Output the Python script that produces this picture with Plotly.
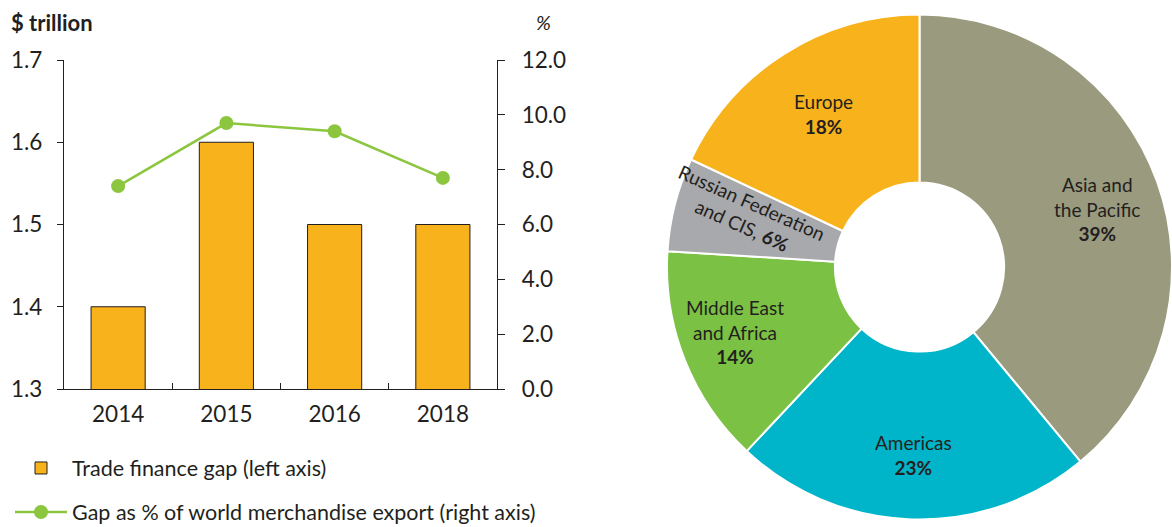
import plotly.graph_objects as go

# ---- data ----
years = ["2014", "2015", "2016", "2018"]
gap_trillion = [1.40, 1.60, 1.50, 1.50]
gap_pct_exports = [7.4, 9.7, 9.4, 7.7]

regions = ["Asia and<br>the Pacific", "Americas", "Middle East<br>and Africa",
           "Russian Federation<br>and CIS,", "Europe"]
region_share = [39, 23, 14, 6, 18]
region_colors = ["#9a9a7e", "#00b5c9", "#7bc143", "#a7a9ac", "#f8b21b"]

bar_name = "Trade finance gap (left axis)"
line_name = "Gap as % of world merchandise export (right axis)"

FONT = "Lato"
INK = "#231f20"
W, H = 1172, 527

fig = go.Figure()

fig.add_trace(go.Bar(
    x=years, y=gap_trillion, name=bar_name, width=0.5,
    marker=dict(color="#f8b21b", line=dict(color=INK, width=1)),
    legend="legend",
))
fig.add_trace(go.Scatter(
    x=years, y=gap_pct_exports, name=line_name, yaxis="y2",
    mode="lines+markers",
    line=dict(color="#8cc63f", width=2.5),
    marker=dict(color="#8cc63f", size=14),
    legend="legend2",
))

pie_dom_w = 505 / W
fig.add_trace(go.Pie(
    labels=regions, values=region_share, sort=False, direction="clockwise",
    rotation=0, hole=0.335, textinfo="none", hoverinfo="label+percent",
    marker=dict(colors=region_colors, line=dict(color="white", width=2)),
    domain=dict(x=[1 - pie_dom_w, 1], y=[5 / H, 1 - 12 / H]),
    showlegend=False,
))

# pie labels (text placement)
label_pos = [(1097, 209, 0), (913, 455, 0), (735, 332, 0), (747, 214, 24), (823, 114, 0)]
for lab, val, (px, py, ang) in zip(regions, region_share, label_pos):
    if ang:
        txt = f"{lab} <b>{val}%</b>"
    else:
        txt = f"{lab}<br><b>{val}%</b>"
    fig.add_annotation(
        x=px / W, y=1 - py / H, xref="paper", yref="paper",
        text=txt, showarrow=False, textangle=ang,
        font=dict(family=FONT, size=19, color=INK),
        xanchor="center", yanchor="middle", align="center",
    )

# axis titles
fig.add_annotation(x=9 / W, y=1 - 22 / H, xref="paper", yref="paper",
                   text="<b>$ trillion</b>", showarrow=False, xanchor="left",
                   yanchor="middle", font=dict(family=FONT, size=22, color=INK))
fig.add_annotation(x=543 / W, y=1 - 22 / H, xref="paper", yref="paper",
                   text="<i>%</i>", showarrow=False, xanchor="center",
                   yanchor="middle", font=dict(family=FONT, size=20, color=INK))

axis_common = dict(showgrid=False, zeroline=False, showline=True,
                   linecolor=INK, linewidth=1.3, tickcolor=INK, tickwidth=1.3,
                   automargin=False,
                   tickfont=dict(family=FONT, size=22.5, color=INK))

fig.update_layout(
    width=W, height=H, autosize=False,
    margin=dict(l=0, r=0, t=0, b=0, autoexpand=False),
    paper_bgcolor="white", plot_bgcolor="white",
    font=dict(family=FONT, color=INK),
    xaxis=dict(domain=[64 / W, 497 / W], type="category", ticks="inside",
               tickson="boundaries", ticklen=6, ticklabelstandoff=5,
               **axis_common),
    yaxis=dict(domain=[1 - 389 / H, 1 - 60 / H], range=[1.3, 1.7], dtick=0.1,
               tickformat=".1f", ticks="outside", ticklen=6,
               ticklabelstandoff=10, **axis_common),
    yaxis2=dict(overlaying="y", side="right", anchor="x", range=[0, 12],
                dtick=2, tickformat=".1f", ticks="outside", ticklen=7,
                ticklabelstandoff=12, **axis_common),
    legend=dict(x=10 / W, y=1 - 468 / H, xanchor="left", yanchor="middle",
                bgcolor="rgba(0,0,0,0)", itemwidth=52,
                font=dict(family=FONT, size=21.5, color=INK)),
    legend2=dict(x=10 / W, y=1 - 512 / H, xanchor="left", yanchor="middle",
                 bgcolor="rgba(0,0,0,0)", itemwidth=52,
                 font=dict(family=FONT, size=21.5, color=INK)),
    showlegend=True,
)

fig.write_html("out.html", config={"displayModeBar": False},
               post_script="document.body.style.margin='0';")
